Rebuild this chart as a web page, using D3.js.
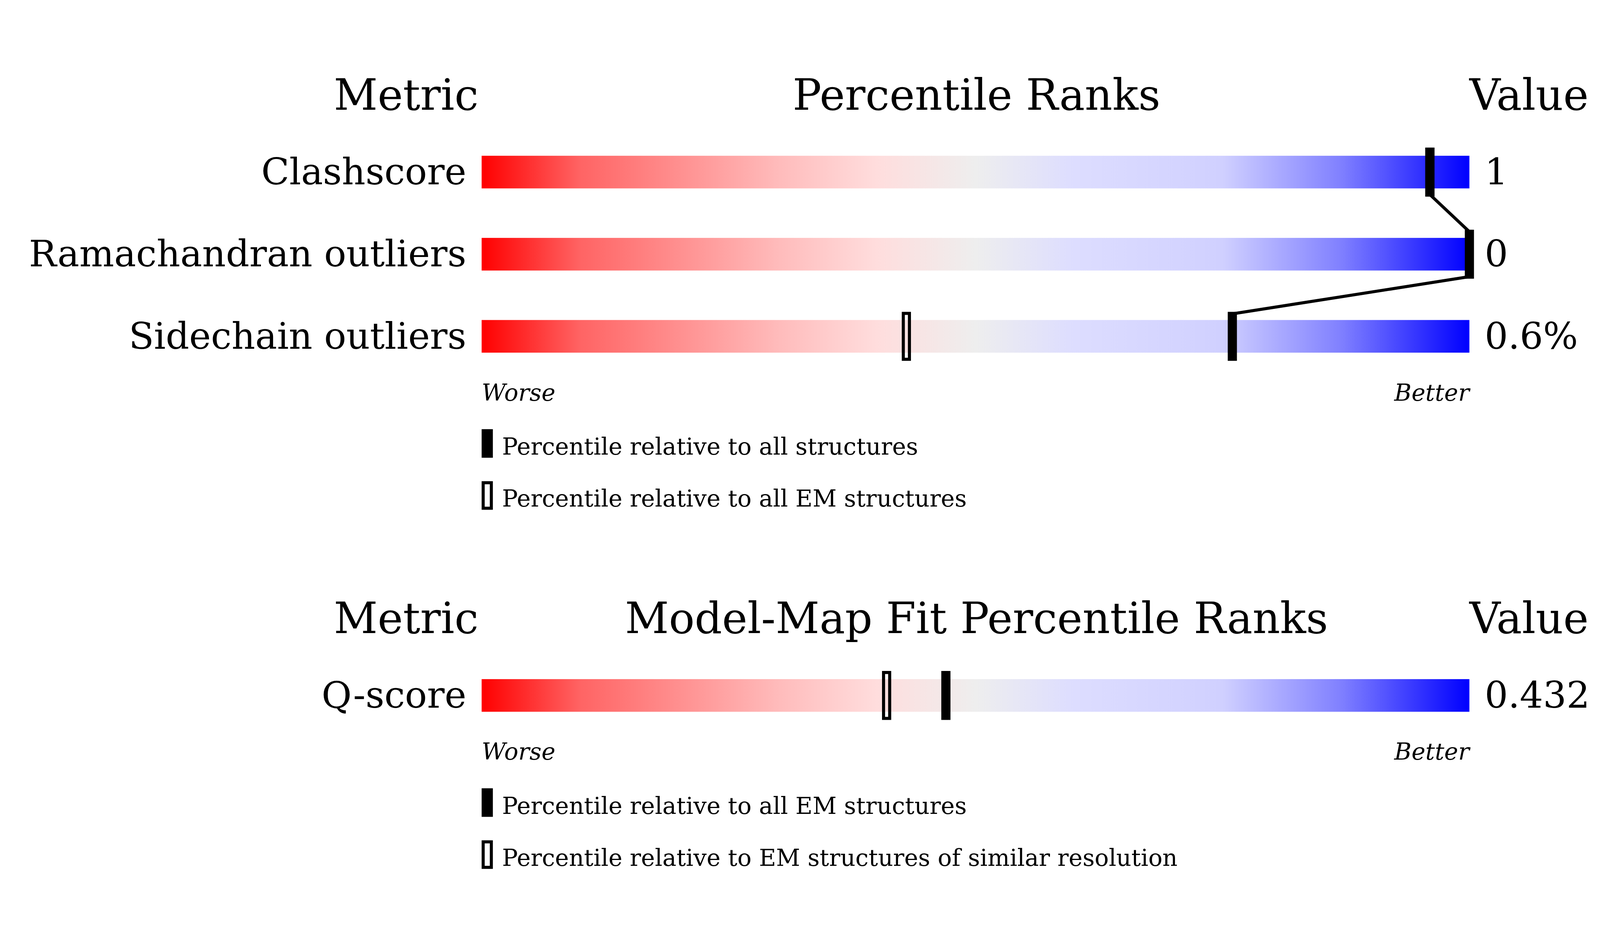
<!DOCTYPE html>
<meta charset="utf-8">
<script src="https://d3js.org/d3.v7.min.js"></script>
<style>html,body{margin:0;padding:0;background:#fff;overflow:hidden}svg{display:block}</style>
<div id="chart"></div>
<script>
// percentile data
const metrics = ["Clashscore", "Ramachandran outliers", "Sidechain outliers"];
const metricValues = ["1", "0", "0.6%"];
const pctAll = [96, 100, 76];
const pctEM = [96, null, 43];
const fitMetrics = ["Q-score"];
const fitValues = ["0.432"];
const fitPctAll = [47];
const fitPctRes = [41];

const svg = d3.select("#chart").append("svg")
    .attr("width", "100vw").attr("height", "100vh")
    .attr("viewBox", "0 0 1568 778")
    .attr("preserveAspectRatio", "xMidYMid meet")
    .style("font-family", "'DejaVu Serif', serif");

const grad = svg.append("defs").append("linearGradient").attr("id", "rg");
[[0, "#ff0000"], [0.1, "#ff6464"], [0.3, "#ffbbbb"], [0.4, "#ffdddd"], [0.5, "#eeeeee"],
 [0.6, "#ddddff"], [0.75, "#d0d0ff"], [0.87, "#8080ff"], [1, "#0000ff"]]
    .forEach(s => grad.append("stop").attr("offset", s[0]).attr("stop-color", s[1]));

const x = d3.scaleLinear().domain([0, 100]).range([472, 1440]);
const barH = 32, mW = 9, mExt = 8;

function section(top, title, names, values, all, other, legendTexts) {
    const g = svg.append("g");
    g.append("text").attr("x", 398).attr("y", top).attr("text-anchor", "middle").attr("font-size", 42).text("Metric");
    g.append("text").attr("x", 957).attr("y", top).attr("text-anchor", "middle").attr("font-size", 42).text(title);
    g.append("text").attr("x", 1440).attr("y", top).attr("font-size", 42).text("Value");
    const y = d3.scalePoint().domain(names).range([top + 45, top + 45 + 80.5 * (names.length - 1)]);
    names.forEach((n, i) => {
        const y0 = y(n);
        g.append("rect").attr("x", x(0)).attr("y", y0).attr("width", x(100) - x(0)).attr("height", barH).attr("fill", "url(#rg)");
        g.append("text").attr("x", 457).attr("y", y0 + 28).attr("text-anchor", "end").attr("font-size", 36).text(n);
        g.append("text").attr("x", 1455).attr("y", y0 + 28).attr("font-size", 36).text(values[i]);
        if (other[i] != null)
            g.append("rect").attr("x", x(other[i]) - mW / 2 + 1.5).attr("y", y0 - mExt + 1.5)
                .attr("width", mW - 3).attr("height", barH + 2 * mExt - 3)
                .attr("fill", "none").attr("stroke", "#000").attr("stroke-width", 3);
        g.append("rect").attr("x", x(all[i]) - mW / 2).attr("y", y0 - mExt)
            .attr("width", mW).attr("height", barH + 2 * mExt).attr("fill", "#000");
    });
    for (let i = 0; i + 1 < names.length; i++) {
        g.append("line").attr("x1", x(all[i])).attr("y1", y(names[i]) + barH + mExt - 2)
            .attr("x2", x(all[i + 1])).attr("y2", y(names[i + 1]) - mExt + 2)
            .attr("stroke", "#000").attr("stroke-width", 3);
    }
    const yb = y(names[names.length - 1]) + barH;
    g.append("text").attr("x", x(0)).attr("y", yb + 47).attr("font-size", 23).attr("font-style", "italic").text("Worse");
    g.append("text").attr("x", x(100)).attr("y", yb + 47).attr("text-anchor", "end").attr("font-size", 23).attr("font-style", "italic").text("Better");
    legendTexts.forEach((t, k) => {
        const ly = yb + 75 + 51 * k;
        if (k === 0) g.append("rect").attr("x", 472).attr("y", ly).attr("width", 11).attr("height", 28).attr("fill", "#000");
        else g.append("rect").attr("x", 473.5).attr("y", ly + 1.5).attr("width", 8).attr("height", 25).attr("fill", "none").attr("stroke", "#000").attr("stroke-width", 3);
        g.append("text").attr("x", 492).attr("y", ly + 25).attr("font-size", 23).text(t);
    });
}

section(35, "Percentile Ranks", metrics, metricValues, pctAll, pctEM,
    ["Percentile relative to all structures", "Percentile relative to all EM structures"]);
section(548, "Model-Map Fit Percentile Ranks", fitMetrics, fitValues, fitPctAll, fitPctRes,
    ["Percentile relative to all EM structures", "Percentile relative to EM structures of similar resolution"]);
</script>
